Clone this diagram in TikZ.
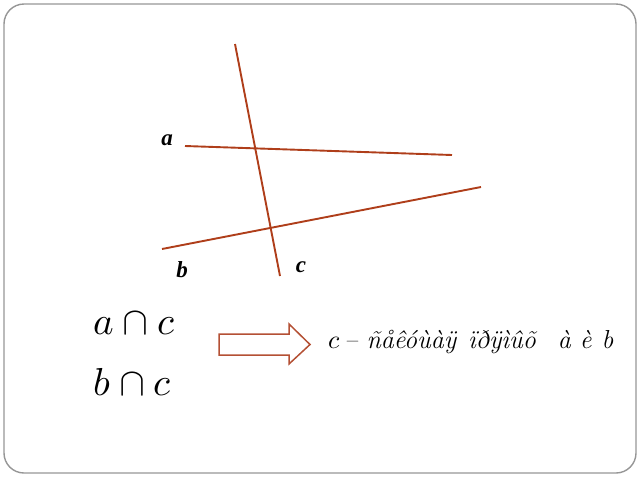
\documentclass[tikz,border=0pt]{standalone}
\usepackage{fontspec}
\usepackage{unicode-math}
\newfontfamily\lblfont{Liberation Serif}
\definecolor{lineRed}{RGB}{175,62,26}
\definecolor{arrowRed}{RGB}{180,80,52}
\definecolor{frameGray}{RGB}{150,150,150}
\tikzset{
  geoline/.style={draw=lineRed, line width=1.9pt},
  lbl/.style={font=\lblfont\fontsize{23}{26}\selectfont\bfseries\itshape, inner sep=0pt},
  formula/.style={font=\fontsize{39}{46}\selectfont, inner sep=0pt, anchor=base west},
}
\begin{document}
\begin{tikzpicture}[x=1pt,y=-1pt]
\useasboundingbox (0,0) rectangle (640,480);
\draw[frameGray, line width=1.4pt, rounded corners=20pt] (4,4) rectangle (636,473);
% lines
\coordinate (c1) at (235,44);  \coordinate (c2) at (280,276);
\coordinate (a1) at (185,146); \coordinate (a2) at (452,155);
\coordinate (b1) at (162,249); \coordinate (b2) at (481,187);
\draw[geoline] (c1) -- (c2);
\draw[geoline] (a1) -- (a2);
\draw[geoline] (b1) -- (b2);
\node[lbl] (la) at (167,140) {a};
\node[lbl] (lb) at (182,270) {b};
\node[lbl] (lc) at (301,267) {c};
% formulas
\node[formula] (f1) at (93,334) {$a\cap c$};
\node[formula] (f2) at (93,395) {$b\cap c$};
% arrow
\draw[arrowRed, line width=1.5pt, fill=white]
  (219,334) -- (289,334) -- (289,324) -- (310,344.5) -- (289,364) -- (289,355) -- (219,355) -- cycle;
% statement
\node[font=\fontsize{26}{30}\selectfont\itshape, inner sep=0pt, anchor=base west] (txt) at (328,348)
  {$c$\,– ñåêóùàÿ\hspace{12pt}ïðÿìûõ\hspace{22pt}à è\hspace{10pt}b};
\end{tikzpicture}
\end{document}
